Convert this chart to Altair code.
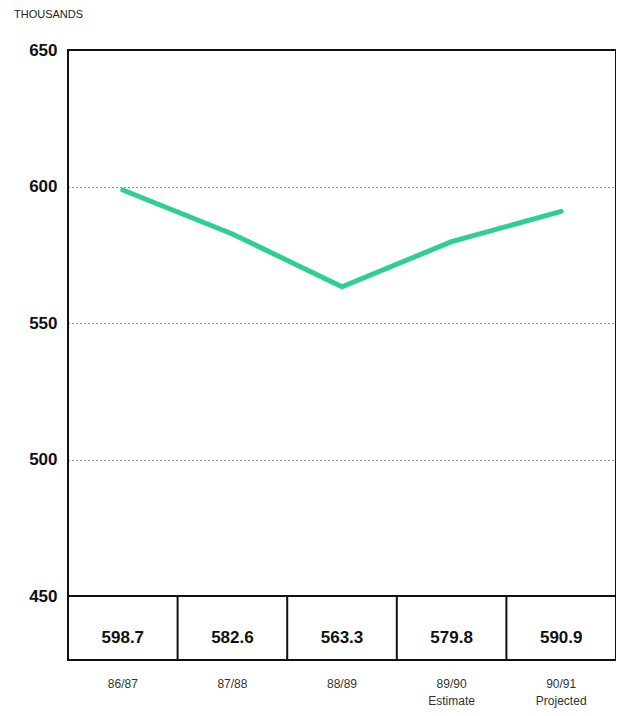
import altair as alt
import pandas as pd

periods = ["86/87", "87/88", "88/89", "89/90", "90/91"]
sublabels = ["", "", "", "Estimate", "Projected"]
values = [598.7, 582.6, 563.3, 579.8, 590.9]
y_ticks = [450, 500, 550, 600, 650]

pos = [i + 0.5 for i in range(len(periods))]
df = pd.DataFrame({
    "period": periods,
    "label": [p + ("\n" + s if s else "") for p, s in zip(periods, sublabels)],
    "value": values,
    "valtext": [f"{v:.1f}" for v in values],
    "pos": pos,
})
YMIN = 426.56
dividers = pd.DataFrame({"x": [1, 2, 3, 4], "y": [YMIN] * 4, "y2": [450] * 4})
base_rule = pd.DataFrame({"y": [450]})

W, H = 548, 610
xscale = alt.Scale(domain=[0, 5], nice=False, zero=False)
yscale = alt.Scale(domain=[YMIN, 650], nice=False, zero=False)

line = alt.Chart(df).mark_line(color="#2fcf8f", strokeWidth=5, strokeCap="round").encode(
    x=alt.X("pos:Q", scale=xscale, axis=None),
    y=alt.Y("value:Q", scale=yscale, axis=alt.Axis(
        values=y_ticks, title=None, ticks=False, domain=False,
        grid=True, gridDash=[1, 3], gridColor="#333", gridWidth=1.2,
        labelFont="Liberation Sans", labelFontWeight="bold", labelFontSize=17,
        labelColor="#111", labelPadding=11)),
)

hrule = alt.Chart(base_rule).mark_rule(color="#111", strokeWidth=2).encode(
    y=alt.Y("y:Q", scale=yscale)
)

vrules = alt.Chart(dividers).mark_rule(color="#111", strokeWidth=2).encode(
    x=alt.X("x:Q", scale=xscale),
    y=alt.Y("y:Q", scale=yscale),
    y2="y2:Q",
)

frame = alt.Chart(base_rule).mark_rect(fill=None, fillOpacity=0, stroke="#111", strokeWidth=2).encode(
    x=alt.value(0), x2=alt.value(W), y=alt.value(0), y2=alt.value(H)
)

valtext = alt.Chart(df).mark_text(
    font="Liberation Sans", fontWeight="bold", fontSize=17, color="#111", baseline="middle"
).encode(
    x=alt.X("pos:Q", scale=xscale),
    y=alt.value(588),
    text="valtext:N",
)

periodtext = alt.Chart(df).mark_text(
    font="Liberation Sans", fontSize=12, color="#333", baseline="top", lineBreak="\n", lineHeight=17
).encode(
    x=alt.X("pos:Q", scale=xscale),
    y=alt.value(629),
    text="label:N",
)

title_txt = alt.Chart(pd.DataFrame({"t": ["THOUSANDS"]})).mark_text(
    font="Liberation Sans", fontSize=11, color="#222", align="left", baseline="middle"
).encode(x=alt.value(-54), y=alt.value(-35), text="t:N")

chart = alt.layer(line, hrule, vrules, frame, valtext, periodtext, title_txt).properties(
    width=W, height=H,
    background="white",
    autosize=alt.AutoSizeParams(type="none"),
    padding={"left": 60, "top": 42, "right": 0, "bottom": 48},
).configure_view(stroke=None)

chart.save("out.html", embed_options={"renderer": "svg", "actions": False})
